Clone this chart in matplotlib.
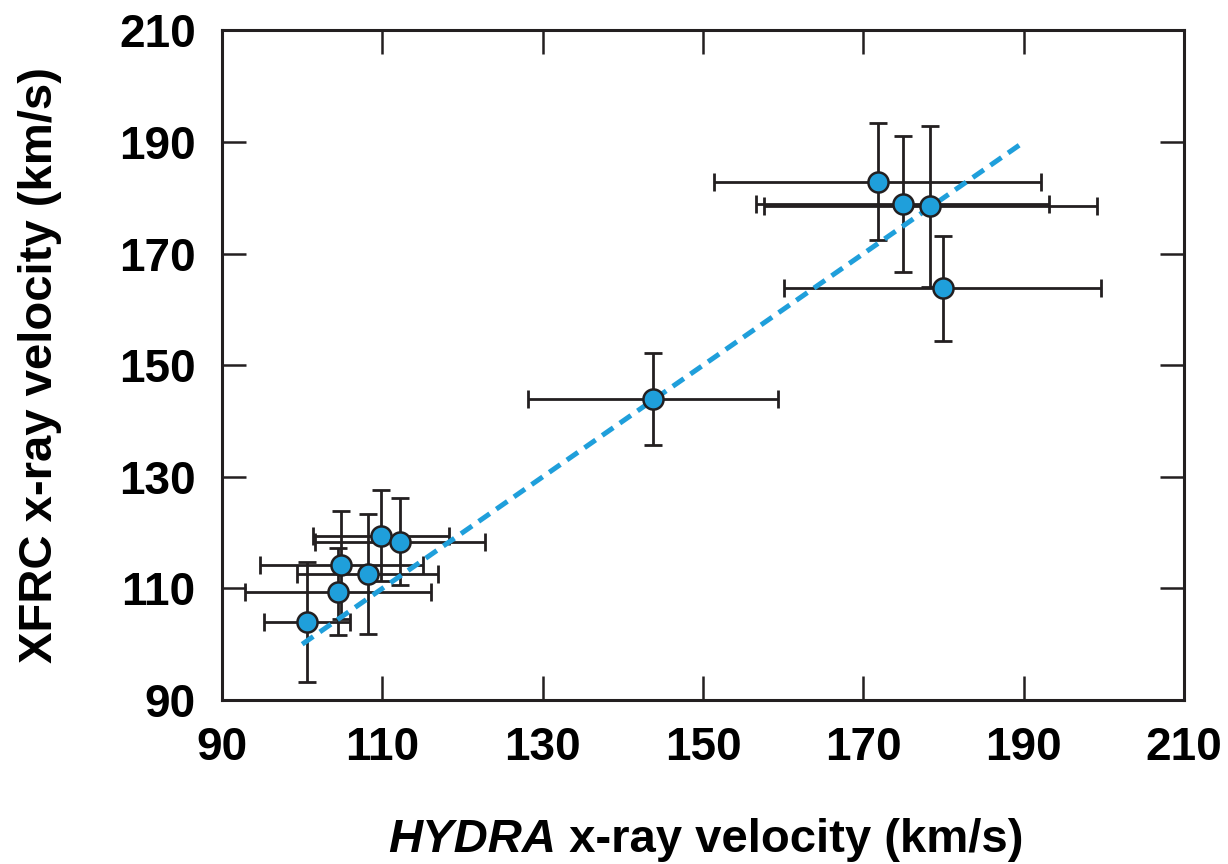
import numpy as np
import matplotlib.pyplot as plt

plt.rcParams['font.family'] = ['Liberation Sans', 'DejaVu Sans']
plt.rcParams['font.weight'] = 'bold'

# data
hydra = [100.6, 104.5, 104.9, 108.2, 109.8, 112.2, 143.8, 171.8, 174.9, 178.35, 179.9]
xfrc = [104.0, 109.4, 114.2, 112.6, 119.45, 118.4, 143.9, 182.9, 178.9, 178.5, 163.8]
hydra_err = [5.4, 11.6, 10.2, 8.8, 8.5, 10.6, 15.6, 20.4, 18.3, 20.8, 19.8]
xfrc_err = [10.8, 7.8, 9.7, 10.8, 8.2, 7.8, 8.25, 10.5, 12.2, 14.4, 9.4]

fit_x = [100, 190]
fit_y = [100, 190]

ticks = [90, 110, 130, 150, 170, 190, 210]

blue = '#1f9fdb'
dark = '#231f20'

fig = plt.figure(figsize=(12.28, 8.64), dpi=100)
ax = fig.add_axes([0.1808, 0.1898, 0.7834, 0.7749])

ax.errorbar(hydra, xfrc, xerr=hydra_err, yerr=xfrc_err, fmt='none',
            ecolor=dark, elinewidth=2.0, capsize=6.5, capthick=2.0, zorder=2)
ax.plot(fit_x, fit_y, color=blue, lw=3.6, linestyle=(0, (2.7, 1.6)),
        dash_capstyle='butt', zorder=3)
ax.plot(hydra, xfrc, 'o', ms=14.5, mfc=blue, mec=dark, mew=1.8, zorder=4)

ax.set_xlim(90, 210)
ax.set_ylim(90, 210)
ax.set_xticks(ticks)
ax.set_yticks(ticks)

for sp in ax.spines.values():
    sp.set_linewidth(2.2)
    sp.set_color(dark)

ax.tick_params(direction='in', length=17, width=1.8, color=dark,
               top=True, right=True, labelsize=33, pad=19)
for lab in ax.get_xticklabels() + ax.get_yticklabels():
    lab.set_fontweight('bold')

ax.set_ylabel('XFRC x-ray velocity (km/s)', fontsize=34, fontweight='bold')
ax.yaxis.set_label_coords(-0.166, 0.5)

# x label: italic model name followed by upright text
t1 = fig.text(0.316, 0.0139, 'HYDRA', fontsize=34, fontweight='bold',
              fontstyle='italic', ha='left', va='baseline')
ax.annotate(' x-ray velocity (km/s)', xy=(1, 0), xycoords=t1,
            fontsize=34, fontweight='bold', ha='left', va='bottom',
            annotation_clip=False)

plt.savefig('out.png', dpi=100)
